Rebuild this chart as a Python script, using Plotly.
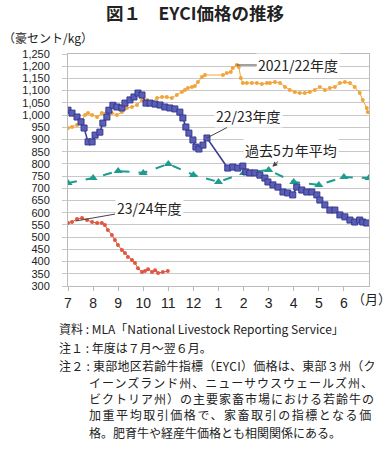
import plotly.graph_objects as go

# ---------------- data (x = month position from July, 0..12) ----------------
month_ticks = [0, 1, 2, 3, 4, 5, 6, 7, 8, 9, 10, 11]
month_labels = ["7", "8", "9", "10", "11", "12", "1", "2", "3", "4", "5", "6"]

x_2122 = [0.00, 0.16, 0.36, 0.56, 0.68, 0.80, 0.96, 1.16, 1.35, 1.55, 1.75, 1.95, 2.15, 2.35,
          2.55, 2.75, 2.95, 3.15, 3.35, 3.55, 3.75, 3.94, 4.14, 4.34, 4.54, 4.66, 4.78, 4.94,
          5.06, 5.18, 5.34, 5.46, 6.18, 6.33, 6.49, 6.57, 6.73, 6.81, 6.89, 6.97, 7.13, 7.33,
          7.53, 7.73, 7.93, 8.05, 8.25, 8.45, 8.65, 8.84, 9.04, 9.24, 9.44, 9.64, 9.84, 10.04,
          10.24, 10.44, 10.64, 10.84, 11.04, 11.24, 11.43, 11.63, 11.75, 11.91, 11.95]
v_2122 = [947, 951, 959, 980, 1000, 1008, 1000, 992, 1008, 1012, 1008, 1000, 1012, 1029,
          1033, 1041, 1062, 1062, 1053, 1070, 1074, 1074, 1070, 1082, 1094, 1103, 1111, 1115,
          1119, 1135, 1156, 1164, 1164, 1172, 1176, 1193, 1205, 1197, 1152, 1131, 1131, 1131,
          1131, 1127, 1131, 1131, 1135, 1131, 1115, 1103, 1094, 1090, 1090, 1094, 1103, 1115,
          1103, 1111, 1115, 1131, 1135, 1131, 1115, 1090, 1062, 1029, 1012]

x_2223 = [0.00, 0.16, 0.36, 0.52, 0.64, 0.80, 0.96, 1.08, 1.27, 1.39, 1.55, 1.63, 1.79, 1.95,
          2.15, 2.27, 2.47, 2.63, 2.79, 2.95, 3.11, 3.27, 3.47, 3.67, 3.86, 4.06, 4.26, 4.46,
          4.58, 4.70, 4.82, 4.98, 5.10, 5.22, 5.38, 5.54, 6.37, 6.57, 6.77, 6.97, 7.09, 7.25,
          7.45, 7.65, 7.85, 7.97, 8.17, 8.37, 8.57, 8.76, 8.96, 9.12, 9.32, 9.52, 9.72, 9.92,
          10.04, 10.24, 10.44, 10.64, 10.84, 11.04, 11.24, 11.43, 11.63, 11.75, 11.91]
v_2223 = [1020, 1008, 992, 972, 947, 890, 890, 918, 930, 967, 992, 1020, 1040, 1033,
          1029, 1049, 1062, 1074, 1090, 1082, 1049, 1049, 1045, 1041, 1033, 1029, 1025, 1012,
          988, 951, 926, 898, 869, 861, 877, 906, 783, 787, 783, 791, 767, 763,
          763, 754, 742, 726, 714, 705, 685, 681, 673, 705, 693, 685, 685, 673,
          652, 632, 611, 611, 591, 583, 570, 562, 570, 562, 558]

x_2324 = [0.00, 0.16, 0.36, 0.56, 0.76, 0.96, 1.16, 1.35, 1.47, 1.59, 1.75, 1.87, 1.99, 2.15,
          2.27, 2.39, 2.55, 2.67, 2.79, 2.95, 3.07, 3.19, 3.35, 3.47, 3.59, 3.78, 3.98]
v_2324 = [558, 562, 574, 578, 570, 562, 558, 558, 550, 529, 509, 488, 468, 447,
          435, 419, 406, 394, 373, 357, 361, 369, 357, 365, 353, 357, 361]

x_avg5 = [0, 1, 2, 3, 4, 5, 6, 7, 8, 9, 10, 11, 12]
v_avg5 = [722, 742, 771, 763, 800, 755, 726, 763, 775, 726, 714, 746, 742]

# ---------------- layout helpers (pixel -> paper) ----------------
L, R, T, B = 68, 369, 54, 286
W, H = 390, 452


def pxx(x):
    return (x - L) / (R - L)


def pxy(y):
    return (B - y) / (B - T)


CJK = "Noto Sans CJK JP"
NUM = "Liberation Sans, Arial, sans-serif"

fig = go.Figure()

fig.add_trace(go.Scatter(
    x=x_avg5, y=v_avg5, mode="lines+markers", name="過去5カ年平均",
    line=dict(color="#1E9C8F", width=2, dash="dash"),
    marker=dict(symbol="triangle-up", size=8, color="#1E9C8F")))
fig.add_trace(go.Scatter(
    x=x_2122, y=v_2122, mode="lines+markers", name="2021/22年度",
    line=dict(color="#F2A43A", width=1),
    marker=dict(symbol="circle", size=4, color="#F2A43A")))
fig.add_trace(go.Scatter(
    x=x_2223, y=v_2223, mode="lines+markers", name="22/23年度",
    line=dict(color="#3A3E96", width=1.5),
    marker=dict(symbol="square", size=6, color="#5A5EB6",
                line=dict(color="#36398E", width=1))))
fig.add_trace(go.Scatter(
    x=x_2324, y=v_2324, mode="lines+markers", name="23/24年度",
    line=dict(color="#E0563E", width=1),
    marker=dict(symbol="circle", size=4, color="#E0563E")))

ann = []
lab_font = dict(family=CJK, size=14, color="#222222")
# series labels with leader lines
ann.append(dict(x=6.73, y=1205, ax=9.18, ay=1205, axref="x", ayref="y", xref="x", yref="y",
                text="2021/22年度", showarrow=True, arrowhead=0, arrowwidth=1,
                arrowcolor="#444444", font=lab_font, bgcolor="white", borderpad=1))
ann.append(dict(x=5.54, y=906, ax=7.21, ay=996, axref="x", ayref="y", xref="x", yref="y",
                text="22/23年度", showarrow=True, arrowhead=0, arrowwidth=1,
                arrowcolor="#444444", font=lab_font, bgcolor="white", borderpad=1))
ann.append(dict(x=8, y=775, ax=8.88, ay=857, axref="x", ayref="y", xref="x", yref="y",
                text="過去5カ年平均", showarrow=True, arrowhead=2, arrowsize=1, arrowwidth=1,
                standoff=5, arrowcolor="#444444", font=lab_font, bgcolor="white", borderpad=1))
ann.append(dict(x=0.3, y=566, ax=3.23, ay=619, axref="x", ayref="y", xref="x", yref="y",
                text="23/24年度", showarrow=True, arrowhead=0, arrowwidth=1,
                arrowcolor="#444444", font=lab_font, bgcolor="white", borderpad=1))

# unit labels
ann.append(dict(x=pxx(1), y=pxy(37), xref="paper", yref="paper", xanchor="left",
                yanchor="middle", text="（豪セント/kg）", showarrow=False,
                font=dict(family=CJK, size=12, color="#222222")))
ann.append(dict(x=pxx(371), y=pxy(298), xref="paper", yref="paper", xanchor="center",
                yanchor="middle", text="（月）", showarrow=False,
                font=dict(family=CJK, size=13, color="#222222")))

# notes
note_font = dict(family=CJK, size=12, color="#222222")
notes = [
    ("資料 : MLA「National Livestock Reporting Service」", 57, 328, 0),
    ("注１ : 年度は７月～翌６月。", 57, 347, 0),
    ("注２ : 東部地区若齢牛指標（EYCI）価格は、東部３州（ク", 57, 365, 0.25),
    ("イーンズランド州、ニューサウスウェールズ州、", 87, 382, 1.0),
    ("ビクトリア州）の主要家畜市場における若齢牛の", 87, 398, 1.0),
    ("加重平均取引価格で、家畜取引の指標となる価", 87, 415, 1.55),
    ("格。肥育牛や経産牛価格とも相関関係にある。", 87, 432, 0),
]
for t, x, y, ls in notes:
    txt = t if ls == 0 else f'<span style="letter-spacing:{ls}px">{t}</span>'
    ann.append(dict(x=pxx(x), y=pxy(y), xref="paper", yref="paper", xanchor="left",
                    yanchor="middle", text=txt, showarrow=False, font=note_font))

fig.update_layout(
    width=W, height=H, autosize=False,
    margin=dict(l=L, r=W - R, t=T, b=H - B, pad=0),
    paper_bgcolor="white", plot_bgcolor="white",
    showlegend=False,
    title=dict(text="図１　EYCI価格の推移", x=0.5, xref="container", xanchor="center",
               y=1 - 14 / H, yref="container", yanchor="middle",
               font=dict(family=CJK, size=17.5, color="#222222", weight="bold")),
    annotations=ann,
    xaxis=dict(range=[0, 12], tickmode="array", tickvals=month_ticks, ticktext=month_labels,
               showgrid=False, zeroline=False, showline=True, linecolor="#BBBBBB",
               linewidth=1, mirror=True, ticks="outside", ticklen=4, tickcolor="#BBBBBB",
               tickfont=dict(family=NUM, size=14, color="#222222")),
    yaxis=dict(range=[300, 1250], dtick=50, tick0=300, tickformat=",",
               showgrid=True, gridcolor="#C8C8C8", gridwidth=1, zeroline=False,
               showline=True, linecolor="#BBBBBB", linewidth=1, mirror=True,
               ticks="outside", ticklen=5, tickcolor="#C8C8C8", ticklabelstandoff=10,
               tickfont=dict(family=NUM, size=11, color="#222222")),
)

fig.write_html("out.html", config={"displayModeBar": False},
               post_script="document.body.style.margin='0';document.body.style.padding='0';")
